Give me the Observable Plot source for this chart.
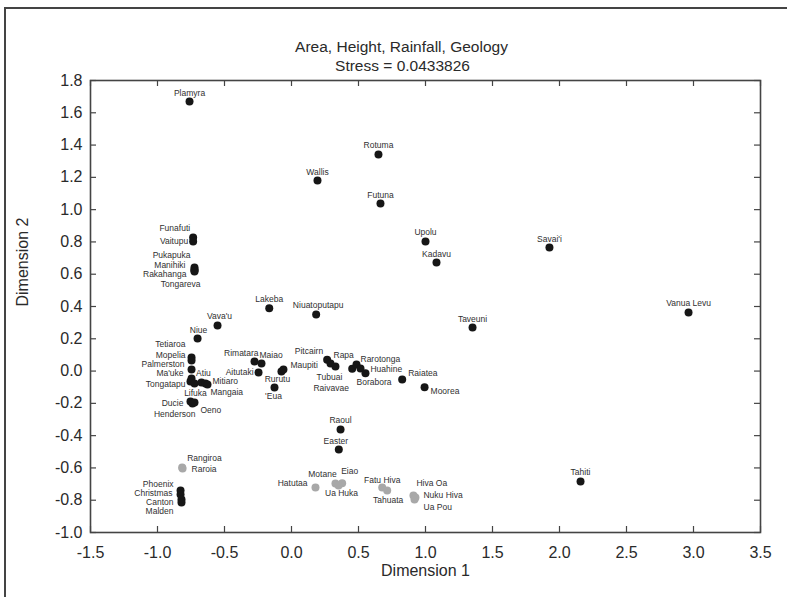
<!DOCTYPE html>
<html><head><meta charset="utf-8">
<script src="https://cdn.jsdelivr.net/npm/d3@7"></script>
<script src="https://cdn.jsdelivr.net/npm/@observablehq/plot@0.6"></script>
<style>
body{margin:0;background:#fff;}
#wrap{position:relative;width:787px;height:597px;overflow:hidden;background:#fff;}
#outer{position:absolute;left:4px;top:7px;width:900px;height:700px;border-left:2px solid #444;border-top:2px solid #444;}
#chart{position:absolute;left:0;top:0;}
</style></head><body>
<div id="wrap"><div id="outer"></div><div id="chart"></div></div>
<script>
const title = "Area, Height, Rainfall, Geology";
const subtitle = "Stress = 0.0433826";
const xLabel = "Dimension 1";
const yLabel = "Dimension 2";
const xTicks = [-1.5, -1.0, -0.5, 0.0, 0.5, 1.0, 1.5, 2.0, 2.5, 3.0, 3.5];
const yTicks = [-1.0, -0.8, -0.6, -0.4, -0.2, 0.0, 0.2, 0.4, 0.6, 0.8, 1.0, 1.2, 1.4, 1.6, 1.8];

const islands = ["Plamyra","Rotuma","Wallis","Futuna","Funafuti","Vaitupu","Pukapuka","Manihiki","Rakahanga","Tongareva",
  "Upolu","Kadavu","Savai'i","Lakeba","Niuatoputapu","Vava'u","Niue","Vanua Levu","Taveuni","Tahiti",
  "Tetiaroa","Mopelia","Palmerston","Ma'uke","Tongatapu","Lifuka","Atiu","Mitiaro","Mangaia","Ducie","Henderson","Oeno",
  "Rimatara","Maiao","Aitutaki","Rurutu","Maupiti","'Eua","Pitcairn","Rapa","Tubuai","Raivavae","Rarotonga","Huahine","Borabora",
  "Raiatea","Moorea","Raoul","Easter","Phoenix","Christmas","Canton","Malden",
  "Rangiroa","Raroia","Hatutaa","Motane","Eiao","Ua Huka","Fatu Hiva","Tahuata","Hiva Oa","Nuku Hiva","Ua Pou"];
const dim1 = [-0.761,0.649,0.194,0.664,-0.734,-0.734,-0.724,-0.724,-0.724,-0.724,
  1.000,1.082,1.925,-0.166,0.184,-0.552,-0.701,2.963,1.351,2.157,
  -0.746,-0.746,-0.746,-0.746,-0.754,-0.724,-0.672,-0.642,-0.627,-0.754,-0.739,-0.724,
  -0.276,-0.224,-0.246,-0.075,-0.060,-0.127,0.266,0.291,0.328,0.453,0.485,0.552,0.515,
  0.826,0.993,0.366,0.353,-0.828,-0.828,-0.821,-0.821,
  -0.816,-0.813,0.179,0.328,0.378,0.351,0.677,0.714,0.910,0.925,0.918];
const dim2 = [1.670,1.342,1.181,1.038,0.827,0.803,0.642,0.629,0.623,0.617,
  0.803,0.673,0.765,0.389,0.350,0.282,0.202,0.363,0.270,-0.684,
  0.084,0.065,0.010,-0.046,-0.065,-0.077,-0.071,-0.077,-0.083,-0.189,-0.201,-0.195,
  0.059,0.047,-0.009,-0.003,0.010,-0.102,0.070,0.047,0.028,0.014,0.041,-0.013,0.016,
  -0.052,-0.100,-0.362,-0.486,-0.740,-0.765,-0.796,-0.814,
  -0.597,-0.604,-0.721,-0.696,-0.695,-0.709,-0.721,-0.740,-0.771,-0.783,-0.796];
const groups = ["A","B"];
const group = islands.map((_, i) => i < 53 ? "A" : "B");

// label placement (anchor, dx, dy in pixels)
const labelAt = {
  "Plamyra":["middle",0,-8],"Rotuma":["middle",0,-9],"Wallis":["middle",0,-8],"Futuna":["middle",0,-8],
  "Funafuti":["end",-3,-9],"Vaitupu":["end",-5,0],"Pukapuka":["end",-4,-12],"Manihiki":["end",-9,-4],
  "Rakahanga":["end",-8,4],"Tongareva":["end",6,13],"Upolu":["middle",0,-9],"Kadavu":["middle",0,-8],
  "Savai'i":["middle",0,-8],"Lakeba":["middle",0,-9],"Niuatoputapu":["middle",2,-9],"Vava'u":["middle",2,-9],
  "Niue":["middle",1,-8],"Vanua Levu":["middle",0,-9],"Taveuni":["middle",0,-8],"Tahiti":["middle",0,-9],
  "Tetiaroa":["end",-6,-13],"Mopelia":["end",-6,-5],"Palmerston":["end",-7,-5],"Ma'uke":["end",-8,-5],
  "Tongatapu":["end",-5,3],"Lifuka":["middle",1,10],"Atiu":["middle",2,-9],"Mitiaro":["start",7,-2],
  "Mangaia":["start",3,8],"Ducie":["end",-7,2],"Henderson":["end",3,11],"Oeno":["start",6,8],
  "Rimatara":["end",4,-8],"Maiao":["start",-2,-8],"Aitutaki":["end",-5,0],"Rurutu":["middle",-4,8],
  "Maupiti":["start",7,-4],"'Eua":["middle",-1,9],"Pitcairn":["end",-4,-9],"Rapa":["start",3,-8],
  "Tubuai":["middle",-6,11],"Raivavae":["middle",-21,19],"Rarotonga":["start",4,-5],"Huahine":["start",5,-4],
  "Borabora":["start",-4,14],"Raiatea":["start",6,-6],"Moorea":["start",6,4],"Raoul":["middle",0,-9],
  "Easter":["middle",-3,-8],"Phoenix":["end",-7,-6],"Christmas":["end",-8,-1],"Canton":["end",-8,3],
  "Malden":["end",-8,9],"Rangiroa":["start",5,-9],"Raroia":["start",9,1],"Hatutaa":["end",-8,-4],
  "Motane":["middle",-13,-9],"Eiao":["start",-1,-12],"Ua Huka":["middle",3,8],"Fatu Hiva":["middle",0,-7],
  "Tahuata":["middle",1,10],"Hiva Oa":["start",3,-12],"Nuku Hiva":["start",8,-2],"Ua Pou":["start",9,8]
};

const rows = islands.map((name, i) => ({name, d1: dim1[i], d2: dim2[i], g: group[i]}));
const font = "'Liberation Sans', Arial, sans-serif";
const ink = "#2a2a2a";

const labelMarks = rows.map(r => {
  const [a, dx, dy] = labelAt[r.name] || ["middle", 0, -9];
  return Plot.text([r], {x: "d1", y: "d2", text: "name", textAnchor: a, dx, dy, fontSize: 8.5, fill: "#303030"});
});

const chart = Plot.plot({
  width: 787, height: 597,
  marginLeft: 90, marginRight: 27, marginTop: 80, marginBottom: 65,
  style: {fontFamily: font, background: "transparent", color: ink},
  x: {domain: [-1.5, 3.5]},
  y: {domain: [-1.0, 1.8]},
  color: {domain: groups, range: ["#161616", "#a8a8a8"]},
  marks: [
    Plot.tickX(xTicks, {x: d => d, insetTop: 446, stroke: "#444", strokeWidth: 1.2}),
    Plot.tickX(xTicks, {x: d => d, insetBottom: 446, stroke: "#444", strokeWidth: 1.2}),
    Plot.tickY(yTicks, {y: d => d, insetRight: 664, stroke: "#444", strokeWidth: 1.2}),
    Plot.tickY(yTicks, {y: d => d, insetLeft: 664, stroke: "#444", strokeWidth: 1.2}),
    Plot.frame({stroke: "#444", strokeWidth: 1.6}),
    Plot.axisX({ticks: xTicks, tickSize: 0, tickPadding: 14, tickFormat: d => d.toFixed(1), fontSize: 16, label: null, fill: ink}),
    Plot.axisY({ticks: yTicks, tickSize: 0, tickPadding: 8, tickFormat: d => d.toFixed(1), fontSize: 16, label: null, fill: ink}),
    Plot.dot(rows, {x: "d1", y: "d2", r: 4, fill: "g", stroke: "none"}),
    ...labelMarks,
    Plot.text([title], {text: d => d, frameAnchor: "top", dx: -24, dy: -40, fontSize: 15.5, fill: ink}),
    Plot.text([subtitle], {text: d => d, frameAnchor: "top", dx: -23, dy: -21, fontSize: 15.5, fill: ink}),
    Plot.text([xLabel], {text: d => d, frameAnchor: "bottom", dy: 43, fontSize: 16, fill: ink}),
    Plot.text([yLabel], {text: d => d, frameAnchor: "left", dx: -68, rotate: -90, fontSize: 16, fill: ink})
  ]
});
document.getElementById("chart").appendChild(chart);
</script>
</body></html>
